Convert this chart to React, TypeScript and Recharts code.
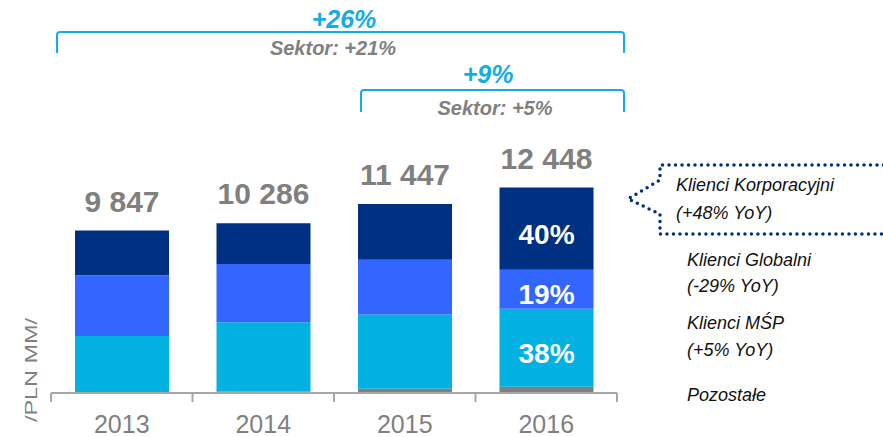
import { Bar, BarChart, Customized, LabelList, XAxis, YAxis } from 'recharts'

// PLN MM, stacked bottom to top
const years = ['2013', '2014', '2015', '2016']
const pozostale = [17, 86, 252, 374]
const msp = [3440, 4200, 4500, 4730]
const globalni = [3680, 3530, 3330, 2365]
const korporacyjni = [2710, 2470, 3365, 4979]
const totals = [9847, 10286, 11447, 12448]

const legendRows = [
  ['Klienci Korporacyjni', '(+48% YoY)'],
  ['Klienci Globalni', '(-29% YoY)'],
  ['Klienci MŚP', '(+5% YoY)'],
  ['Pozostałe'],
]

const FONT = '"Liberation Sans", Arial, sans-serif'
const GREY = '#808080'
const CYAN = '#14ACE4'
const NAVY = '#003082'

const data = years.map((year, i) => ({
  year,
  pozostale: pozostale[i],
  msp: msp[i],
  globalni: globalni[i],
  korporacyjni: korporacyjni[i],
  total: totals[i],
}))

const W = 883
const H = 437
const LEFT = 51
const RIGHT = 266
const BAND = (W - LEFT - RIGHT) / years.length

const fmt = (v: number) => String(v).replace(/\B(?=(\d{3})+(?!\d))/g, ' ')

function YearTick(props: any) {
  const { x, y, payload, index } = props
  const left = x - BAND / 2
  return (
    <g>
      <line x1={left} x2={left} y1={y} y2={y + 9} stroke='#A6A6A6' strokeWidth={2} />
      {index === years.length - 1 && (
        <line x1={x + BAND / 2} x2={x + BAND / 2} y1={y} y2={y + 9} stroke='#A6A6A6' strokeWidth={2} />
      )}
      <text x={x} y={y + 40} textAnchor='middle' fill={GREY} fontSize={25} fontFamily={FONT}>
        {payload.value}
      </text>
    </g>
  )
}

// share labels only inside the 2016 bar
function shareLabel(key: 'msp' | 'globalni' | 'korporacyjni') {
  return (props: any) => {
    const { x, y, width, height, index } = props
    if (index !== years.length - 1) return null
    const share = Math.round((data[index][key] / data[index].total) * 100)
    return (
      <text
        x={x + width / 2}
        y={y + height / 2 + 15}
        textAnchor='middle'
        fill='#fff'
        fontSize={28}
        fontWeight='bold'
        fontFamily={FONT}
      >
        {share}%
      </text>
    )
  }
}

function Annotations() {
  const bracket = (x1: number, x2: number, y: number, y2: number) =>
    `M${x1},${y2} L${x1},${y + 3} Q${x1},${y} ${x1 + 3},${y} L${x2 - 3},${y} Q${x2},${y} ${x2},${y + 3} L${x2},${y2}`
  return (
    <g fontFamily={FONT}>
      <path d={bracket(57, 624, 32, 53)} fill='none' stroke={CYAN} strokeWidth={2} />
      <path d={bracket(361, 624, 90, 112)} fill='none' stroke={CYAN} strokeWidth={2} />
      <text x={344} y={28} textAnchor='middle' fill={CYAN} fontSize={25} fontWeight='bold' fontStyle='italic'>
        +26%
      </text>
      <text x={333} y={55} textAnchor='middle' fill={GREY} fontSize={20} fontWeight='bold' fontStyle='italic'>
        Sektor: +21%
      </text>
      <text x={488} y={83} textAnchor='middle' fill={CYAN} fontSize={25} fontWeight='bold' fontStyle='italic'>
        +9%
      </text>
      <text x={495} y={115} textAnchor='middle' fill={GREY} fontSize={20} fontWeight='bold' fontStyle='italic'>
        Sektor: +5%
      </text>

      {/* callout around the corporate row */}
      <polyline
        points='890,165 660,165 660,180 628,199 660,214 660,234 890,234'
        fill='none'
        stroke={NAVY}
        strokeWidth={3.5}
        strokeDasharray='0 6.5'
        strokeLinecap='round'
      />

      <text
        transform='translate(37 370) rotate(-90) scale(1.38 1)'
        textAnchor='middle'
        fill={GREY}
        fontSize={17}
      >
        /PLN MM/
      </text>

      {legendRows.map((row, i) => {
        const ys = [[191, 219], [266, 292], [329, 356], [401]][i]
        const x = i === 0 ? 676 : 687
        return row.map((line, j) => (
          <text key={`${i}-${j}`} x={x} y={ys[j]} fill='#111' fontSize={18} fontStyle='italic'>
            {line}
          </text>
        ))
      })}
    </g>
  )
}

export default function App() {
  return (
    <div style={{ position: 'absolute', left: 0, top: 0, width: W, height: H, background: '#fff' }}>
      <BarChart width={W} height={H} data={data} margin={{ top: 162, right: RIGHT, bottom: 0, left: LEFT }}>
        <XAxis
          dataKey='year'
          height={44}
          axisLine={{ stroke: '#A6A6A6', strokeWidth: 2 }}
          tickLine={false}
          tickSize={0}
          tickMargin={0}
          tick={<YearTick />}
          interval={0}
        />
        <YAxis hide domain={[0, 14000]} />
        <Bar dataKey='pozostale' stackId='a' fill={GREY} barSize={94} isAnimationActive={false} />
        <Bar dataKey='msp' stackId='a' fill='#00B1E2' barSize={94} isAnimationActive={false}>
          <LabelList content={shareLabel('msp')} />
        </Bar>
        <Bar dataKey='globalni' stackId='a' fill='#3366FF' barSize={94} isAnimationActive={false}>
          <LabelList content={shareLabel('globalni')} />
        </Bar>
        <Bar dataKey='korporacyjni' stackId='a' fill={NAVY} barSize={94} isAnimationActive={false}>
          <LabelList content={shareLabel('korporacyjni')} />
          <LabelList
            dataKey='total'
            position='top'
            offset={19}
            formatter={(v: any) => fmt(Number(v))}
            fill={GREY}
            fontSize={30}
            fontWeight='bold'
            fontFamily={FONT}
          />
        </Bar>
        <Customized component={<Annotations />} />
      </BarChart>
    </div>
  )
}
